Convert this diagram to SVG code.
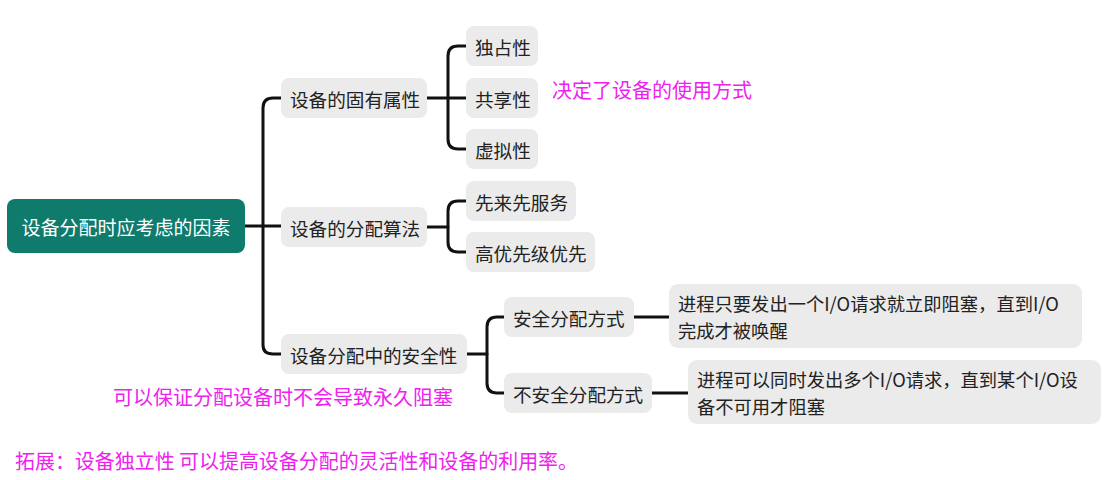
<svg xmlns="http://www.w3.org/2000/svg" width="1116" height="480" viewBox="0 0 1116 480">
<style>
.n{fill:#ebebeb}
.t{font-family:"Noto Sans CJK SC","Noto Sans",sans-serif;font-size:18.6px;fill:#222;dominant-baseline:central}
.l{font-size:18.3px}
.m{font-family:"Noto Sans CJK SC","Noto Sans",sans-serif;font-size:20px;fill:#ee22ee;dominant-baseline:central}
.c{fill:none;stroke:#111;stroke-width:3;stroke-linecap:round}
</style>
<rect width="1116" height="480" fill="#fff"/>
<g id="connectors">
<path class="c" d="M245 226 H281"/>
<path class="c" d="M281 98 H273 Q263 98 263 108 V345 Q263 354 273 354 H281"/>
<path class="c" d="M427 98 H466"/>
<path class="c" d="M466 46 H458 Q448 46 448 56 V139 Q448 149 458 149 H466"/>
<path class="c" d="M427 227 H448"/>
<path class="c" d="M466 201 H458 Q448 201 448 211 V242 Q448 252 458 252 H466"/>
<path class="c" d="M467 354 H487"/>
<path class="c" d="M504 317 H497 Q487 317 487 327 V383 Q487 393 497 393 H504"/>
<path class="c" d="M634 317 H669"/>
<path class="c" d="M652 393 H688"/>
</g>
<g id="root">
<rect x="7" y="199" width="238" height="54" rx="8" fill="#0e7b6c"/>
<text x="126" y="226" text-anchor="middle" class="t" style="fill:#fff;font-size:19px">设备分配时应考虑的因素</text>
</g>
<g id="n1"><rect class="n" x="281" y="78" width="146" height="40" rx="8"/><text class="t" x="290" y="98">设备的固有属性</text></g>
<g id="n2"><rect class="n" x="281" y="207" width="146" height="40" rx="8"/><text class="t" x="290" y="227">设备的分配算法</text></g>
<g id="n3"><rect class="n" x="281" y="334" width="186" height="40" rx="8"/><text class="t" x="290" y="354">设备分配中的安全性</text></g>
<g id="n11"><rect class="n" x="466" y="26" width="72" height="40" rx="8"/><text class="t" x="475" y="46">独占性</text></g>
<g id="n12"><rect class="n" x="466" y="78" width="72" height="40" rx="8"/><text class="t" x="475" y="98">共享性</text></g>
<g id="n13"><rect class="n" x="466" y="129" width="72" height="40" rx="8"/><text class="t" x="475" y="149">虚拟性</text></g>
<g id="n21"><rect class="n" x="466" y="181" width="110" height="40" rx="8"/><text class="t" x="475" y="201">先来先服务</text></g>
<g id="n22"><rect class="n" x="466" y="232" width="129" height="40" rx="8"/><text class="t" x="475" y="252">高优先级优先</text></g>
<g id="n31"><rect class="n" x="504" y="297" width="130" height="40" rx="8"/><text class="t" x="513" y="317">安全分配方式</text></g>
<g id="n32"><rect class="n" x="504" y="373" width="148" height="40" rx="8"/><text class="t" x="513" y="393">不安全分配方式</text></g>
<g id="n311"><rect class="n" x="669" y="284" width="413" height="64" rx="9"/><text class="t l" x="678" y="303">进程只要发出一个I/O请求就立即阻塞，直到I/O</text><text class="t l" x="678" y="330">完成才被唤醒</text></g>
<g id="n321"><rect class="n" x="688" y="360" width="413" height="64" rx="9"/><text class="t l" x="697" y="379">进程可以同时发出多个I/O请求，直到某个I/O设</text><text class="t l" x="697" y="406">备不可用才阻塞</text></g>
<g id="notes">
<text class="m" x="552" y="89">决定了设备的使用方式</text>
<text class="m" x="113" y="396">可以保证分配设备时不会导致永久阻塞</text>
<text class="m" x="15" y="460" textLength="563" lengthAdjust="spacingAndGlyphs">拓展：设备独立性 可以提高设备分配的灵活性和设备的利用率。</text>
</g>
</svg>
